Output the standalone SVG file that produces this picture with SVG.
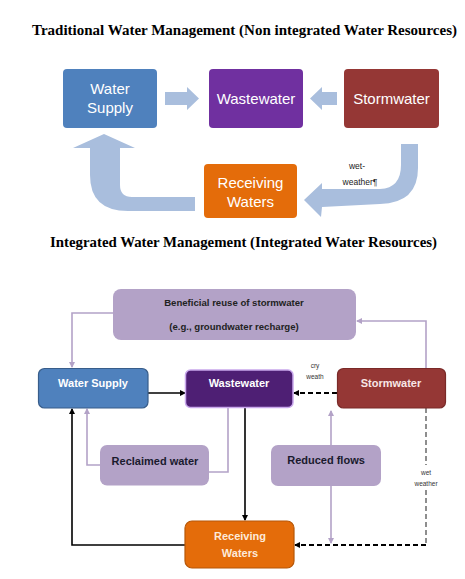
<svg xmlns="http://www.w3.org/2000/svg" width="465" height="579" viewBox="0 0 465 579">
<style>
.title{font-family:"Liberation Serif",serif;font-weight:bold;font-size:14px;fill:#000}
.t1{font-family:"Liberation Sans",Arial,sans-serif;font-size:15px;fill:#fff;text-anchor:middle}
.t2{font-family:"Liberation Sans",Arial,sans-serif;font-size:11px;font-weight:bold;text-anchor:middle}
.t3{font-family:"Liberation Sans",Arial,sans-serif;font-size:9.6px;font-weight:bold;text-anchor:middle;fill:#222}
.sm{font-family:"Liberation Sans",Arial,sans-serif;font-size:6.5px;fill:#333;text-anchor:middle}
.sm2{font-family:"Liberation Sans",Arial,sans-serif;font-size:8.5px;fill:#222;text-anchor:middle}
.bigarrow{fill:#A9BEDD}
.lp{fill:none;stroke:#B3A2C7;stroke-width:1.6}
.bk{fill:none;stroke:#000;stroke-width:1.6}
.dash{fill:none;stroke:#000;stroke-width:1.8;stroke-dasharray:5,3}
.dashv{fill:none;stroke:#444;stroke-width:1.2;stroke-dasharray:5,3}
</style>
<defs>
<marker id="ab" markerWidth="6" markerHeight="6" refX="5" refY="3" orient="auto" markerUnits="userSpaceOnUse">
<path d="M0,0 L6,3 L0,6 Z" fill="#000"/>
</marker>
<marker id="ap" markerWidth="6" markerHeight="6" refX="5" refY="3" orient="auto" markerUnits="userSpaceOnUse">
<path d="M0,0 L6,3 L0,6 Z" fill="#B3A2C7"/>
</marker>
</defs>
<rect width="465" height="579" fill="#fff"/>

<text class="title" x="244.5" y="35" text-anchor="middle" textLength="425" lengthAdjust="spacingAndGlyphs">Traditional Water Management (Non integrated Water Resources)</text>

<g id="top-connectors">
<path class="bigarrow" d="M165,92 L187,92 L187,87 L199,98.5 L187,110 L187,105 L165,105 Z"/>
<path class="bigarrow" d="M337,92 L322,92 L322,87 L310,98.5 L322,110 L322,105 L337,105 Z"/>
<path class="bigarrow" d="M104,134 L135,148 L120,148 L120,185 Q120,197 132,197 L195,197 L195,211 L128,211 Q90,211 90,175 L90,148 L73,148 Z"/>
<path class="bigarrow" d="M401,144 L418,144 L418,168 Q418,203 380,204 L322,207 L321,217 L304,200 L322,183 L322,189 L380,189 Q401,188 401,165 Z"/>
<text class="sm2" x="357" y="169">wet-</text>
<text class="sm2" x="360" y="185">weather¶</text>
</g>

<g id="top-water-supply">
<rect x="63" y="69" width="94" height="59" rx="4" fill="#4F81BD"/>
<text class="t1" x="110" y="94">Water</text>
<text class="t1" x="110" y="113">Supply</text>
</g>
<g id="top-wastewater">
<rect x="209" y="69" width="94" height="59" rx="4" fill="#7030A0"/>
<text class="t1" x="256" y="104">Wastewater</text>
</g>
<g id="top-stormwater">
<rect x="344" y="69" width="95" height="59" rx="4" fill="#953735"/>
<text class="t1" x="391.5" y="104">Stormwater</text>
</g>
<g id="top-receiving">
<rect x="204" y="164" width="93" height="54" rx="4" fill="#E46C0A"/>
<text class="t1" x="250.5" y="188">Receiving</text>
<text class="t1" x="250.5" y="207">Waters</text>
</g>

<text class="title" x="243.5" y="247" text-anchor="middle" textLength="387" lengthAdjust="spacingAndGlyphs">Integrated Water Management (Integrated Water Resources)</text>

<g id="connectors">
<polyline class="lp" points="113,313 72,313 72,367" marker-end="url(#ap)"/>
<polyline class="lp" points="426,368 426,321 357,321" marker-end="url(#ap)"/>
<line class="bk" x1="148" y1="393" x2="185" y2="393" marker-end="url(#ab)"/>
<line class="dash" x1="337" y1="393" x2="294" y2="393" marker-end="url(#ab)"/>
<polyline class="lp" points="100,465 87,465 87,409" marker-end="url(#ap)"/>
<polyline class="lp" points="228,407 228,472 209,472"/>
<line class="bk" x1="245" y1="407" x2="245" y2="520" marker-end="url(#ab)"/>
<polyline class="bk" points="185,545 72,545 72,409" marker-end="url(#ab)"/>
<line class="lp" x1="331" y1="445" x2="331" y2="411" marker-end="url(#ap)"/>
<line class="lp" x1="331" y1="486" x2="331" y2="543" marker-end="url(#ap)"/>
<line class="dashv" x1="426" y1="408" x2="426" y2="465"/>
<polyline class="dashv" points="426,490 426,545"/>
<line class="dash" x1="426" y1="545" x2="295" y2="545" marker-end="url(#ab)"/>
<text class="sm" x="315" y="368">cry</text>
<text class="sm" x="315" y="379">weath</text>
<text class="sm" x="426" y="475">wet</text>
<text class="sm" x="426" y="486">weather</text>
</g>

<g id="beneficial">
<rect x="113" y="289" width="243" height="51" rx="8" fill="#B3A2C7"/>
<text class="t3" x="234" y="306">Beneficial reuse of stormwater</text>
<text class="t3" x="234" y="330">(e.g., groundwater recharge)</text>
</g>
<g id="water-supply">
<rect x="38.5" y="368.5" width="109.5" height="39.5" rx="6" fill="#4F81BD" stroke="#385D8A" stroke-width="1.2"/>
<text class="t2" x="93" y="387" fill="#fff">Water Supply</text>
</g>
<g id="wastewater">
<rect x="185.5" y="370" width="107.5" height="37.5" rx="5" fill="#4E1F74" stroke="#C9A8EC" stroke-width="1.5"/>
<text class="t2" x="239" y="387" fill="#fff">Wastewater</text>
</g>
<g id="stormwater">
<rect x="337.5" y="368.5" width="108" height="39.5" rx="6" fill="#953735" stroke="#7A2A28" stroke-width="1.2"/>
<text class="t2" x="391" y="387" fill="#F8E6E6">Stormwater</text>
</g>
<g id="reclaimed">
<rect x="100" y="445" width="109" height="40.5" rx="7" fill="#B3A2C7"/>
<text class="t2" x="155" y="465" fill="#1A1A2E">Reclaimed water</text>
</g>
<g id="reduced">
<rect x="271" y="445" width="110" height="41" rx="7" fill="#B3A2C7"/>
<text class="t2" x="326" y="464" fill="#1A1A2E">Reduced flows</text>
</g>
<g id="receiving">
<rect x="185" y="521" width="109" height="47" rx="7" fill="#E46C0A" stroke="#B65708" stroke-width="1.2"/>
<text class="t2" x="240" y="540" fill="#FDEADA" font-size="10.5">Receiving</text>
<text class="t2" x="240" y="557" fill="#FDEADA" font-size="10.5">Waters</text>
</g>
</svg>
